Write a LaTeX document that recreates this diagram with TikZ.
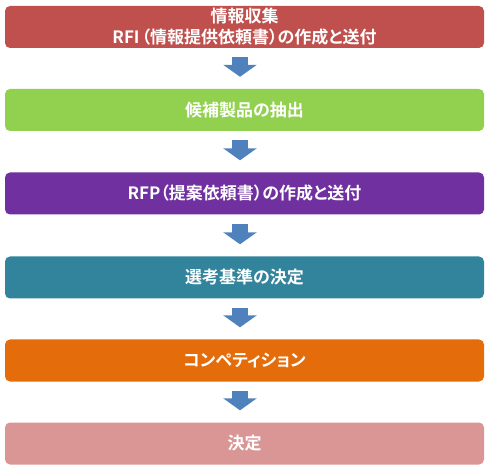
\documentclass[tikz,border=0pt]{standalone}
\usepackage{fontspec}
\usetikzlibrary{arrows.meta}
\newfontfamily\jpfont{Noto Sans CJK JP}[BoldFont={Noto Sans CJK JP Bold}, RawFeature=+palt]
\definecolor{stepred}{HTML}{C0504D}
\definecolor{stepgreen}{HTML}{92D050}
\definecolor{steppurple}{HTML}{7030A0}
\definecolor{stepteal}{HTML}{31849B}
\definecolor{steporange}{HTML}{E46C0A}
\definecolor{steppink}{HTML}{D99694}
\definecolor{flowblue}{HTML}{4F81BD}
\begin{document}
\begin{tikzpicture}[x=1pt, y=1pt,
        stepbox/.style={rounded corners=5pt, minimum width=479pt, minimum height=42pt,
            inner sep=0pt, align=center, text=white,
            font=\jpfont\bfseries\fontsize{17}{21}\selectfont},
        flow/.style={flowblue, line width=16pt, shorten <=9pt, shorten >=12pt,
            -{Triangle[width=33pt, length=12pt]}}]
            \useasboundingbox (0,0) rectangle (490,-470);
            \node [stepbox, fill=stepred] (1) at (244.5,-27) {情報収集\\RFI\kern2pt（情報提供依頼書）の作成と送付};
            \node [stepbox, fill=stepgreen] (2) at (244.5,-110) {候補製品の抽出};
            \node [stepbox, fill=steppurple] (3) at (244.5,-193.5) {RFP（提案依頼書）の作成と送付};
            \node [stepbox, fill=stepteal] (4) at (244.5,-277.5) {選考基準の決定};
            \node [stepbox, fill=steporange] (5) at (244.5,-360.5) {コンペティション};
            \node [stepbox, fill=steppink] (6) at (244.5,-443.5) {決定};
            \path [draw, flow] ([xshift=-4.5pt]1.south) -- ([xshift=-4.5pt]2.north);
            \path [draw, flow] ([xshift=-4.5pt]2.south) -- ([xshift=-4.5pt]3.north);
            \path [draw, flow] ([xshift=-4.5pt]3.south) -- ([xshift=-4.5pt]4.north);
            \path [draw, flow] ([xshift=-4.5pt]4.south) -- ([xshift=-4.5pt]5.north);
            \path [draw, flow] ([xshift=-4.5pt]5.south) -- ([xshift=-4.5pt]6.north);
        \end{tikzpicture}
\end{document}
